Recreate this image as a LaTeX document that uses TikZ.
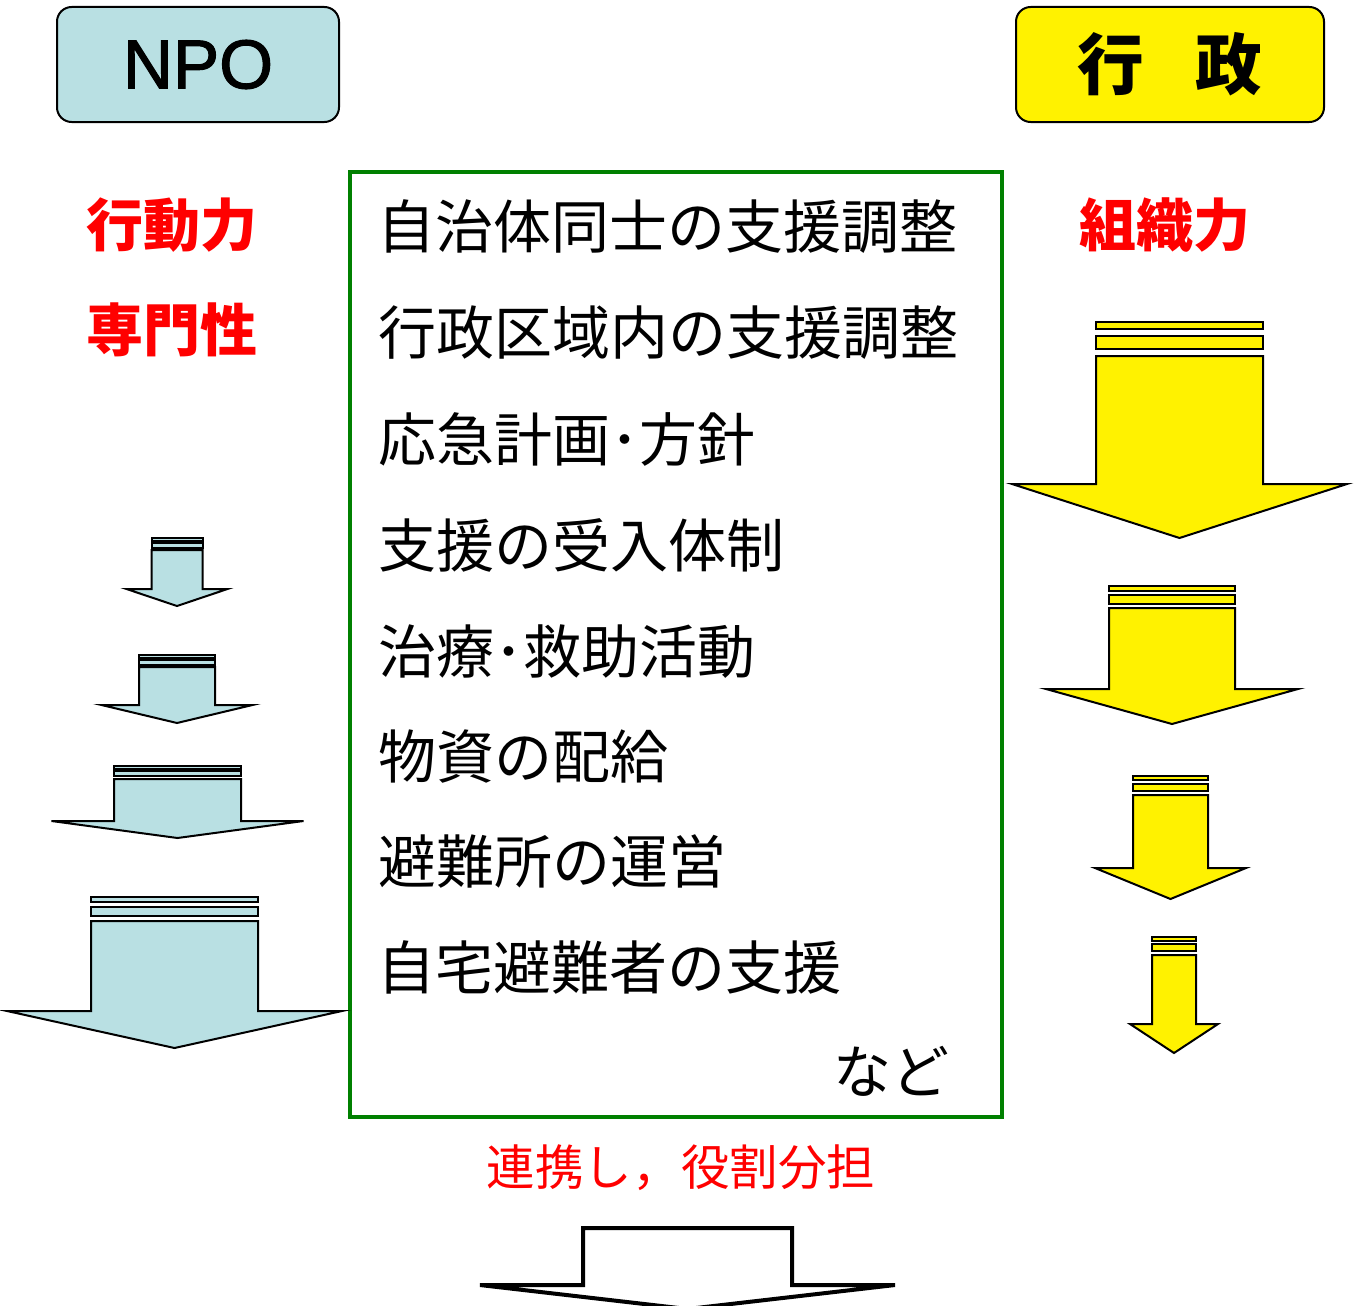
\documentclass[tikz,border=0pt]{standalone}
\usepackage{fontspec}
\setmainfont{Noto Sans CJK JP}
\newfontfamily\latinfont[FakeBold=1.5]{Liberation Sans}
\usetikzlibrary{positioning}

\definecolor{npoblue}{RGB}{185,224,227}
\definecolor{boxgreen}{RGB}{0,128,0}

\tikzset{
  headbox/.style={draw, line width=1.5pt, rounded corners=11pt, minimum width=#1, minimum height=86.25pt, inner sep=0pt},
  redlabel/.style={text=red, font=\fontsize{42.75}{50}\selectfont\bfseries},
  listbox/.style={draw=boxgreen, line width=3pt, minimum width=489pt, minimum height=708.75pt, inner sep=0pt},
  item/.style={anchor=west, inner sep=0pt, text height=0.88em, text depth=0.12em, font=\fontsize{43.5}{50}\selectfont},
  arrowline/.style={draw, line width=1.5pt, line join=miter}
}

\newcommand{\stripearrow}[8]{
  \draw[arrowline, fill=#1] ({#2-#3},#5) rectangle ({#2+#3},{#5+0.22*(#6-#5)});
  \draw[arrowline, fill=#1] ({#2-#3},{#5+0.4*(#6-#5)}) rectangle ({#2+#3},{#5+0.8*(#6-#5)});
  \draw[arrowline, fill=#1] ({#2-#3},#6) -- ({#2+#3},#6) -- ({#2+#3},#7) -- ({#2+#4},#7)
    -- (#2,#8) -- ({#2-#4},#7) -- ({#2-#3},#7) -- cycle;
}

\begin{document}
\begin{tikzpicture}[x=0.75pt, y=-0.75pt]
\useasboundingbox (0,0) rectangle (1356,1306);

\node[headbox=211.5pt, fill=npoblue] (npo) at (198,64.5) {\latinfont\fontsize{52}{58}\selectfont NPO\hspace{0.1em}};
\node[headbox=231pt, fill=yellow] (gyosei) at (1170,64.5) {\fontsize{50}{56}\selectfont\bfseries 行\hspace{0.78em}政\hspace{0.24em}};

\node[redlabel] (kodo) at (172,225) {行動力};
\node[redlabel] (senmon) at (172,330) {専門性};
\node[redlabel] (soshiki) at (1165,225) {組織力};

\node[listbox] (tasks) at (676,644.5) {};
\node[item] (t1) at (377,243) {自治体同士の支援調整};
\node[item] (t2) at (378,349) {行政区域内の支援調整};
\node[item] (t3) at (378,456) {応急計画･方針};
\node[item] (t4) at (378,562) {支援の受入体制};
\node[item] (t5) at (378,668) {治療･救助活動};
\node[item] (t6) at (378,773) {物資の配給};
\node[item] (t7) at (378,878) {避難所の運営};
\node[item] (t8) at (377,984) {自宅避難者の支援};
\node[item, anchor=east] (etc) at (950,1088) {など};

\node[text=red, font=\fontsize{36.4}{44}\selectfont] (renkei) at (681,1168) {連携し，役割分担};

\stripearrow{npoblue}{177}{25.5}{50.5}{538}{550}{589}{606}
\stripearrow{npoblue}{177}{38}{75.5}{655}{667}{705}{723}
\stripearrow{npoblue}{177.5}{63.5}{126}{766}{779}{821}{838}
\stripearrow{npoblue}{174.5}{83.5}{167.5}{897}{921}{1011}{1048}

\stripearrow{yellow}{1179.5}{83.5}{167.5}{322}{356}{484}{538}
\stripearrow{yellow}{1172}{63}{126}{586}{608}{689}{724}
\stripearrow{yellow}{1170.5}{37.5}{75.5}{776}{795}{868}{899}
\stripearrow{yellow}{1174}{22}{44}{937}{955}{1024}{1053}

\draw[arrowline, line width=3pt, fill=white] (583,1228) -- (792,1228) -- (792,1285) -- (895,1285)
  -- (687.5,1309) -- (480,1285) -- (583,1285) -- cycle;
\end{tikzpicture}
\end{document}
